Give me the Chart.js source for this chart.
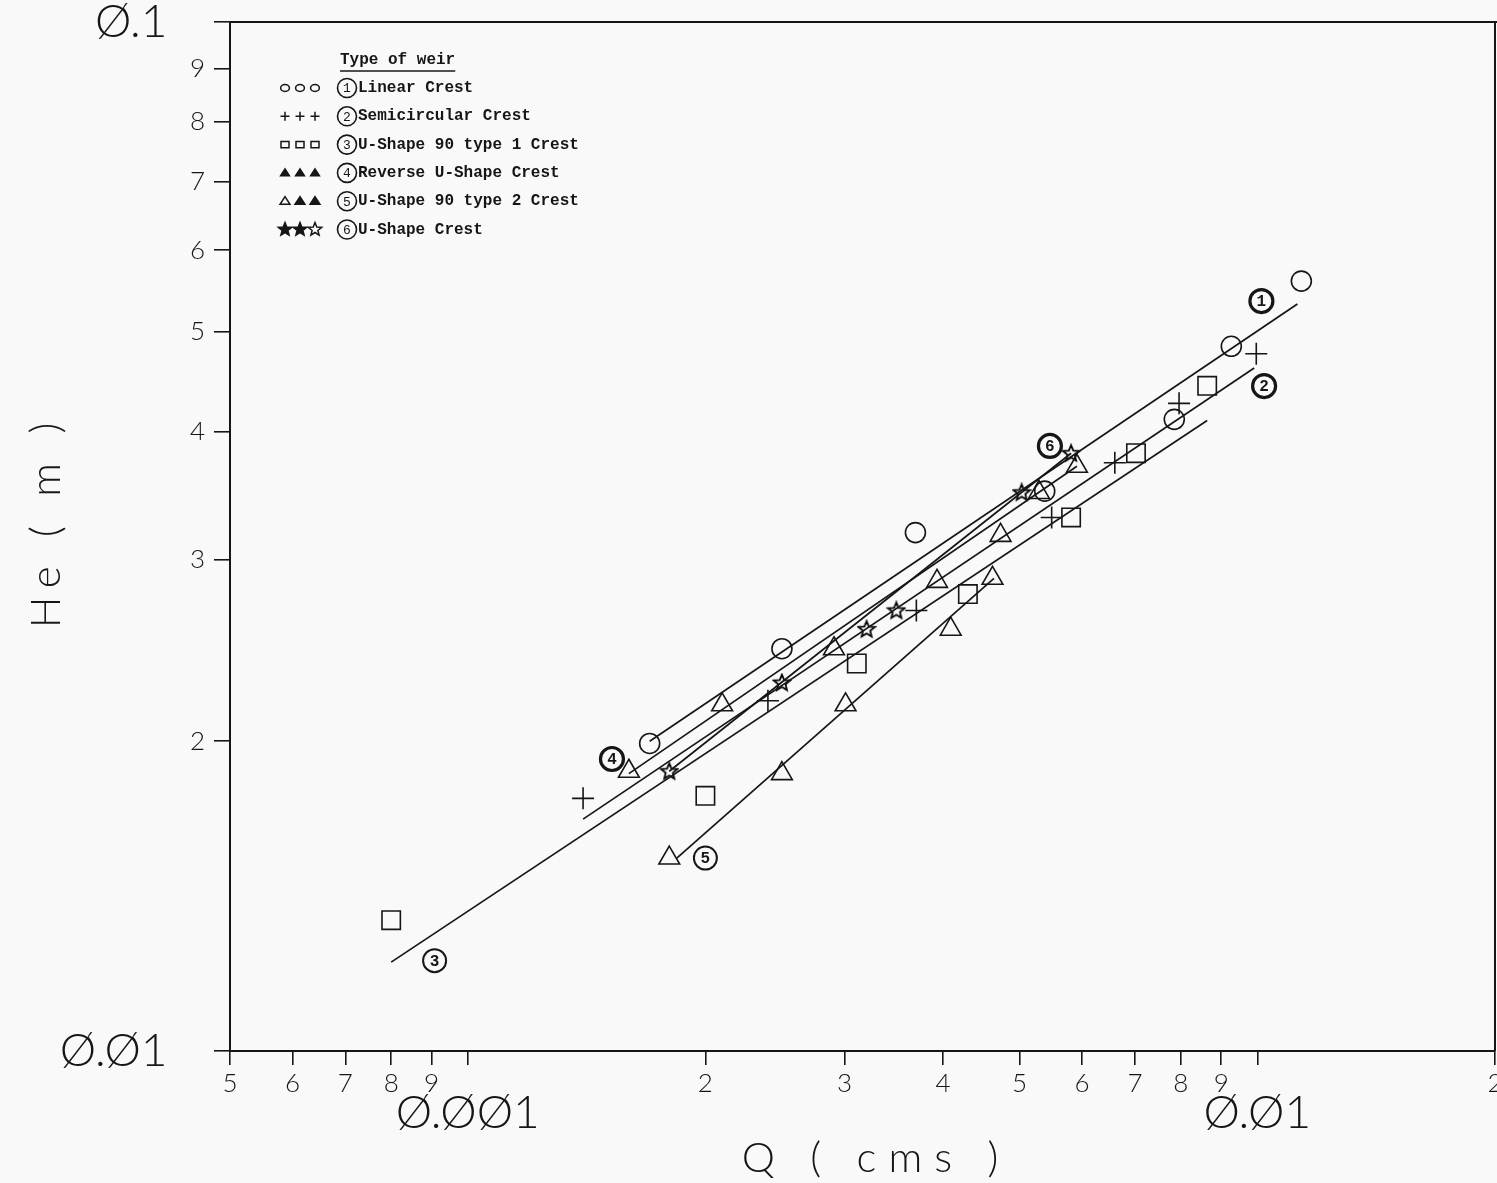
<!DOCTYPE html>
<html>
<head>
<meta charset="utf-8">
<script src="https://cdn.jsdelivr.net/npm/chart.js@4.4.1/dist/chart.umd.min.js"></script>
<style>
  html, body { margin: 0; padding: 0; background: #f9f9f9; }
  #wrap { width: 1497px; height: 1183px; }
</style>
</head>
<body>
<div id="wrap"><canvas id="c" width="1497" height="1183"></canvas></div>
<script>
// ---------------- DATA ----------------
const SERIES_NAMES = ['Linear Crest', 'Semicircular Crest', 'U-Shape 90 type 1 Crest',
                      'Reverse U-Shape Crest', 'U-Shape 90 type 2 Crest', 'U-Shape Crest'];

// (1) Linear crest - circles
const Q_LINEAR  = [0.00170, 0.00250, 0.00369, 0.00538, 0.00785, 0.00927, 0.01137];
const HE_LINEAR = [0.0199, 0.0246, 0.0319, 0.0350, 0.0411, 0.0484, 0.0560];
// (2) Semicircular crest - plus
const Q_SEMI  = [0.00140, 0.00240, 0.00370, 0.00549, 0.00660, 0.00796, 0.00997];
const HE_SEMI = [0.0176, 0.0219, 0.0268, 0.0330, 0.0373, 0.0426, 0.0476];
// (3) U-shape 90 type 1 - squares
const Q_U1  = [0.00080, 0.00200, 0.00311, 0.00430, 0.00581, 0.00702, 0.00864];
const HE_U1 = [0.0134, 0.0177, 0.0238, 0.0278, 0.0330, 0.0381, 0.0443];
// (4) Reverse U-shape - triangles
const Q_REV  = [0.00160, 0.00210, 0.00291, 0.00393, 0.00473, 0.00529, 0.00591];
const HE_REV = [0.0187, 0.0217, 0.0246, 0.0286, 0.0317, 0.0349, 0.0370];
// (5) U-shape 90 type 2 - triangles
const Q_U2  = [0.00180, 0.00250, 0.00301, 0.00409, 0.00462];
const HE_U2 = [0.0154, 0.0186, 0.0217, 0.0257, 0.0288];
// (6) U-shape crest - stars
const Q_USHAPE  = [0.00180, 0.00250, 0.00320, 0.00349, 0.00503, 0.00581];
const HE_USHAPE = [0.0187, 0.0228, 0.0257, 0.0268, 0.0349, 0.0381];

// fitted lines (end points)
const FIT1_Q = [0.00170, 0.01124], FIT1_HE = [0.0200, 0.0532];
const FIT2_Q = [0.00140, 0.00991], FIT2_HE = [0.0168, 0.0461];
const FIT3_Q = [0.00080, 0.00864], FIT3_HE = [0.0122, 0.0410];
const FIT4_Q = [0.00160, 0.00591], FIT4_HE = [0.0186, 0.0370];
const FIT5_Q = [0.00184, 0.00464], FIT5_HE = [0.0154, 0.0288];
const FIT6_Q = [0.00180, 0.00581], FIT6_HE = [0.0187, 0.0381];

// circled curve labels
const TAG_TEXT = ['1', '2', '3', '4', '5', '6'];
const TAG_Q    = [0.01012, 0.01020, 0.000908, 0.001523, 0.00200, 0.005462];
const TAG_HE   = [0.05355, 0.04428, 0.01224, 0.01922, 0.01540, 0.03873];
const TAG_BOLD = [true, true, false, true, false, true];

// axis ticks
const X_TICKS = [0.0005, 0.0006, 0.0007, 0.0008, 0.0009, 0.001, 0.002, 0.003, 0.004, 0.005,
                 0.006, 0.007, 0.008, 0.009, 0.01, 0.02];
const X_TICK_LABELS = ['5', '6', '7', '8', '9', 'Ø.ØØ1', '2', '3', '4', '5', '6', '7', '8', '9', 'Ø.Ø1', '2'];
const Y_TICKS = [0.01, 0.02, 0.03, 0.04, 0.05, 0.06, 0.07, 0.08, 0.09, 0.1];
const Y_TICK_LABELS = ['Ø.Ø1', '2', '3', '4', '5', '6', '7', '8', '9', 'Ø.1'];

const X_TITLE = 'Q ( cms )';
const Y_TITLE = 'He ( m )';
const LEGEND_TITLE = 'Type of weir';

// ---------------- STYLE ----------------
const INK = '#161616';
const PLOT_FONT = 'Lato, "DejaVu Sans", sans-serif';
const TYPE_FONT = '"Liberation Mono", "DejaVu Sans Mono", monospace';

function zip(xs, ys) { return xs.map((x, i) => ({ x: x, y: ys[i] })); }

function starPath(ctx, cx, cy, R, r) {
  ctx.beginPath();
  for (let i = 0; i < 10; i++) {
    const a = -Math.PI / 2 + i * Math.PI / 5;
    const rad = (i % 2 === 0) ? R : r;
    const px = cx + rad * Math.cos(a), py = cy + rad * Math.sin(a);
    if (i === 0) ctx.moveTo(px, py); else ctx.lineTo(px, py);
  }
  ctx.closePath();
}
function makeStar(size, R, r, fill) {
  const cv = document.createElement('canvas');
  cv.width = size; cv.height = size;
  const c = cv.getContext('2d');
  starPath(c, size / 2, size / 2 + 0.5, R, r);
  c.strokeStyle = '#000'; c.lineWidth = 1.8; c.lineJoin = 'miter'; c.stroke();
  if (fill) { c.fillStyle = '#000'; c.fill(); }
  return cv;
}
const STAR_IMG = makeStar(20, 8.5, 3.8, false);

const lineDs = (q, he) => ({
  data: zip(q, he), showLine: true, borderColor: INK, borderWidth: 1.7,
  pointRadius: 0, pointHoverRadius: 0, fill: false, tension: 0
});
const markDs = (label, q, he, style, r) => ({
  label: label, data: zip(q, he), showLine: false,
  pointStyle: style, pointRadius: r, pointHoverRadius: r,
  pointBorderColor: INK, pointBackgroundColor: 'rgba(0,0,0,0)', pointBorderWidth: 1.6
});

// ---------------- PLUGINS ----------------
const paperPlugin = {
  id: 'paper',
  beforeDraw(chart) {
    const ctx = chart.ctx;
    ctx.save(); ctx.fillStyle = '#f9f9f9';
    ctx.fillRect(0, 0, chart.width, chart.height); ctx.restore();
  },
  afterDraw(chart) {
    const ctx = chart.ctx, a = chart.chartArea;
    ctx.save();
    ctx.strokeStyle = INK; ctx.lineWidth = 2;
    ctx.beginPath();
    ctx.moveTo(a.left, a.top); ctx.lineTo(chart.width, a.top);
    ctx.moveTo(a.right, a.top); ctx.lineTo(a.right, a.bottom);
    ctx.stroke();
    // axis titles
    ctx.fillStyle = INK;
    ctx.font = '300 42px ' + PLOT_FONT;
    ctx.textAlign = 'center'; ctx.textBaseline = 'middle';
    try { ctx.letterSpacing = '12px'; } catch (e) {}
    ctx.fillText(X_TITLE, 876, 1158);
    try { ctx.letterSpacing = '9px'; } catch (e) {}
    ctx.translate(46, 525); ctx.rotate(-Math.PI / 2);
    ctx.fillText(Y_TITLE, 4, 0);
    ctx.restore();
  }
};

const tagPlugin = {
  id: 'tags',
  afterDatasetsDraw(chart) {
    const ctx = chart.ctx, xs = chart.scales.x, ys = chart.scales.y;
    ctx.save();
    ctx.strokeStyle = INK; ctx.fillStyle = INK;
    ctx.textAlign = 'center'; ctx.textBaseline = 'middle';
    TAG_TEXT.forEach((t, i) => {
      const px = xs.getPixelForValue(TAG_Q[i]), py = ys.getPixelForValue(TAG_HE[i]);
      ctx.lineWidth = TAG_BOLD[i] ? 3.2 : 2;
      ctx.beginPath(); ctx.arc(px, py, 11.5, 0, Math.PI * 2); ctx.stroke();
      ctx.font = 'bold 16px ' + TYPE_FONT;
      ctx.fillText(t, px, py + 1);
    });
    ctx.restore();
  }
};

function drawMini(ctx, kind, x, y, s, filled) {
  ctx.beginPath();
  if (kind === 'circle') { ctx.ellipse(x, y, s * 1.1, s * 0.85, 0, 0, Math.PI * 2); ctx.stroke(); }
  else if (kind === 'cross') { ctx.moveTo(x - s, y); ctx.lineTo(x + s, y); ctx.moveTo(x, y - s); ctx.lineTo(x, y + s); ctx.stroke(); }
  else if (kind === 'rect') { ctx.rect(x - s, y - s * 0.8, 2 * s, 1.6 * s); ctx.stroke(); }
  else if (kind === 'triangle') {
    ctx.moveTo(x, y - s); ctx.lineTo(x + s * 1.1, y + s * 0.7); ctx.lineTo(x - s * 1.1, y + s * 0.7); ctx.closePath();
    if (filled) ctx.fill(); ctx.stroke();
  } else if (kind === 'star') {
    starPath(ctx, x, y, s * 1.4, s * 0.6); if (filled) ctx.fill(); ctx.stroke();
  }
}

const legendPlugin = {
  id: 'weirLegend',
  afterDraw(chart) {
    const ctx = chart.ctx, a = chart.chartArea;
    const x0 = a.left;
    ctx.save();
    ctx.fillStyle = INK; ctx.strokeStyle = INK;
    ctx.font = 'bold 16px ' + TYPE_FONT;
    ctx.textAlign = 'left'; ctx.textBaseline = 'middle';
    ctx.fillText(LEGEND_TITLE, x0 + 110, 60);
    const w = ctx.measureText(LEGEND_TITLE).width;
    ctx.lineWidth = 1.4;
    ctx.beginPath(); ctx.moveTo(x0 + 110, 71); ctx.lineTo(x0 + 110 + w, 71); ctx.stroke();
    const kinds = ['circle', 'cross', 'rect', 'triangle', 'triangle', 'star'];
    const fills = [[0,0,0],[0,0,0],[0,0,0],[1,1,1],[0,1,1],[1,1,0]];
    const sizes = [4, 4.5, 4, 4, 4.5, 5];
    SERIES_NAMES.forEach((name, i) => {
      const y = 88 + i * 28.3;
      ctx.lineWidth = 1.5;
      for (let k = 0; k < 3; k++) drawMini(ctx, kinds[i], x0 + 55 + k * 15, y, sizes[i], fills[i][k]);
      ctx.lineWidth = 1.6;
      ctx.beginPath(); ctx.arc(x0 + 117, y, 9.5, 0, Math.PI * 2); ctx.stroke();
      ctx.font = '13px ' + TYPE_FONT; ctx.textAlign = 'center';
      ctx.fillText(TAG_TEXT[i], x0 + 117, y + 1);
      ctx.font = 'bold 16px ' + TYPE_FONT; ctx.textAlign = 'left';
      ctx.fillText(name, x0 + 128, y);
    });
    ctx.restore();
  }
};

// ---------------- CHART ----------------
const isBig = (lbl) => lbl.charAt(0) === 'Ø';

new Chart(document.getElementById('c'), {
  type: 'scatter',
  data: {
    datasets: [
      lineDs(FIT1_Q, FIT1_HE), lineDs(FIT2_Q, FIT2_HE), lineDs(FIT3_Q, FIT3_HE),
      lineDs(FIT4_Q, FIT4_HE), lineDs(FIT5_Q, FIT5_HE), lineDs(FIT6_Q, FIT6_HE),
      markDs(SERIES_NAMES[0], Q_LINEAR, HE_LINEAR, 'circle', 10),
      markDs(SERIES_NAMES[1], Q_SEMI, HE_SEMI, 'cross', 11),
      markDs(SERIES_NAMES[2], Q_U1, HE_U1, 'rect', 13),
      markDs(SERIES_NAMES[3], Q_REV, HE_REV, 'triangle', 12),
      markDs(SERIES_NAMES[4], Q_U2, HE_U2, 'triangle', 12),
      markDs(SERIES_NAMES[5], Q_USHAPE, HE_USHAPE, STAR_IMG, 9)
    ]
  },
  options: {
    responsive: false,
    animation: false,
    devicePixelRatio: 1,
    layout: { autoPadding: false, padding: { top: 22, right: 2, left: 0, bottom: 0 } },
    plugins: { legend: { display: false }, tooltip: { enabled: false } },
    scales: {
      x: {
        type: 'logarithmic', position: 'bottom', min: 0.0005, max: 0.02,
        afterBuildTicks: (s) => { s.ticks = X_TICKS.map(v => ({ value: v })); },
        afterFit: (s) => { s.height = 132; s.paddingLeft = 0; s.paddingRight = 0; },
        border: { display: true, color: INK, width: 2 },
        grid: { display: true, drawOnChartArea: false, drawTicks: true, tickLength: 14, color: INK, lineWidth: 1.6 },
        ticks: {
          autoSkip: false, maxRotation: 0, minRotation: 0, padding: 3, color: INK,
          callback: (v, i) => isBig(X_TICK_LABELS[i]) ? ['', X_TICK_LABELS[i]] : X_TICK_LABELS[i],
          font: (c) => isBig(X_TICK_LABELS[c.index] || '')
            ? { family: PLOT_FONT, size: 46, weight: '300', lineHeight: 0.65 }
            : { family: PLOT_FONT, size: 26, weight: '300', lineHeight: 1.2 }
        }
      },
      y: {
        type: 'logarithmic', position: 'left', min: 0.01, max: 0.1,
        afterBuildTicks: (s) => { s.ticks = Y_TICKS.map(v => ({ value: v })); },
        afterFit: (s) => { s.width = 230; s.paddingTop = 0; s.paddingBottom = 0; },
        border: { display: true, color: INK, width: 2 },
        grid: { display: true, drawOnChartArea: false, drawTicks: true, tickLength: 16, color: INK, lineWidth: 1.6 },
        ticks: {
          autoSkip: false, padding: 9, color: INK,
          callback: (v, i) => isBig(Y_TICK_LABELS[i]) ? Y_TICK_LABELS[i] + '   ' : Y_TICK_LABELS[i],
          font: (c) => isBig(Y_TICK_LABELS[c.index] || '')
            ? { family: PLOT_FONT, size: 46, weight: '300' }
            : { family: PLOT_FONT, size: 26, weight: '300' }
        }
      }
    }
  },
  plugins: [paperPlugin, tagPlugin, legendPlugin]
});
</script>
</body>
</html>
